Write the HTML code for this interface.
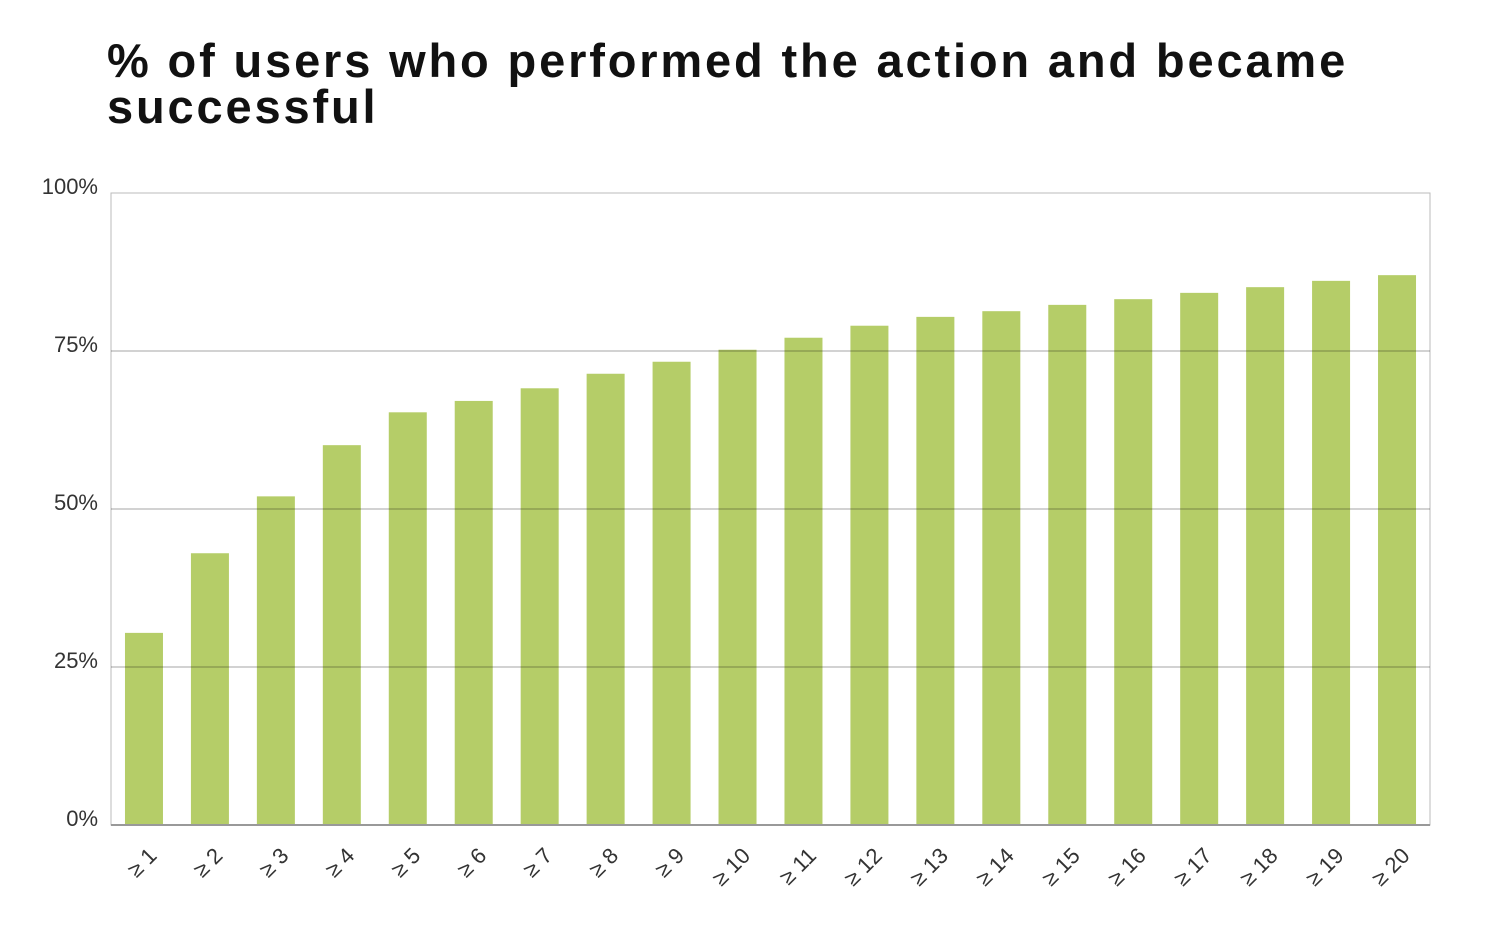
<!DOCTYPE html>
<html><head><meta charset="utf-8"><style>
body{margin:0;background:#fff;width:1502px;height:931px;overflow:hidden;font-family:"Liberation Sans",sans-serif}
h1{position:absolute;left:107px;top:38px;margin:0;font-size:47px;line-height:46px;font-weight:bold;color:#111;letter-spacing:2.85px;width:1390px}
svg{position:absolute;left:0;top:0}
</style></head><body>
<h1>% of users who performed the action and became successful</h1>
<svg id="chart" width="1502" height="931"></svg>
<script>
const categories=["≥ 1","≥ 2","≥ 3","≥ 4","≥ 5","≥ 6","≥ 7","≥ 8","≥ 9","≥ 10","≥ 11","≥ 12","≥ 13","≥ 14","≥ 15","≥ 16","≥ 17","≥ 18","≥ 19","≥ 20"];
const values=[30.4,43,52,60.1,65.3,67.1,69.1,71.4,73.3,75.2,77.1,79,80.4,81.3,82.3,83.2,84.2,85.1,86.1,87];
const ticks=[0,25,50,75,100];
const tickLabels=["0%","25%","50%","75%","100%"];
const NS="http://www.w3.org/2000/svg",svg=document.getElementById('chart');
const L=111,R=1430,T=193,B=825;
const y=v=>B-(v/100)*(B-T);
const band=(R-L)/categories.length;
const x=i=>L+band*(i+0.5);
function mk(t,a,p){const e=document.createElementNS(NS,t);for(const k in a)e.setAttribute(k,a[k]);(p||svg).appendChild(e);return e;}
const frame=mk('rect',{x:L,y:T,width:R-L,height:B-T,fill:'none',stroke:'#bbb','stroke-width':1});


categories.forEach((c,i)=>{
  const b=mk('rect',{x:x(i)-19,y:y(values[i]),width:38,height:B-y(values[i]),fill:'#b5cd68'});
  
  
  const t=mk('text',{x:0,y:0,'font-size':22,fill:'#333','text-anchor':'end',transform:`translate(${x(i)+14},${B+32}) rotate(-45)`});
  t.textContent=c;
  
  
});
ticks.forEach((v,i)=>{
  if(v>0&&v<100){const g=mk('line',{x1:L,x2:R,y1:y(v),y2:y(v),stroke:'rgba(0,0,0,0.35)','stroke-width':1});
  
  }
  const t=mk('text',{x:98,y:y(v)+1,'font-size':22,fill:'#333','text-anchor':'end'});
  t.textContent=tickLabels[i];
  
  
});
const ax=mk('line',{x1:L,x2:R,y1:B,y2:B,stroke:'#999','stroke-width':2});


</script>
</body></html>
